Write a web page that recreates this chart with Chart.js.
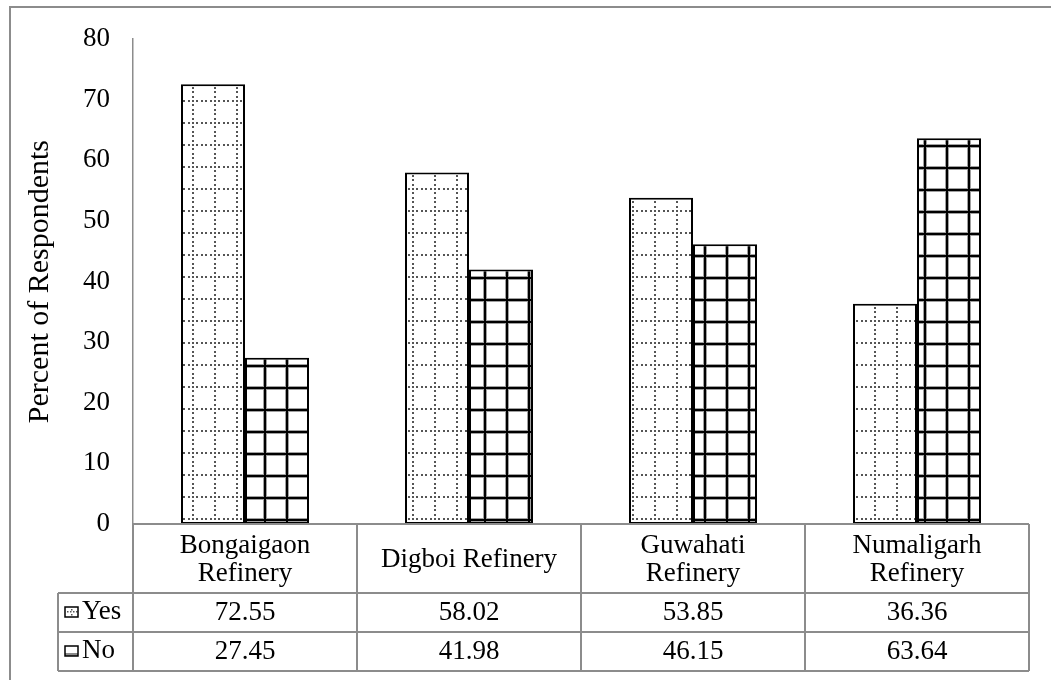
<!DOCTYPE html>
<html>
<head>
<meta charset="utf-8">
<script src="https://cdn.jsdelivr.net/npm/chart.js@4.4.0/dist/chart.umd.min.js"></script>
<style>
  html, body { margin: 0; padding: 0; background: #fff; }
  #wrap { position: relative; width: 1051px; height: 680px; }
</style>
</head>
<body>
<div id="wrap"><canvas id="chart"></canvas></div>
<script>
// Data
const categories = [['Bongaigaon', 'Refinery'], ['Digboi Refinery'], ['Guwahati', 'Refinery'], ['Numaligarh', 'Refinery']];
const seriesNames = ['Yes', 'No'];
const yesValues = [72.55, 58.02, 53.85, 36.36];
const noValues = [27.45, 41.98, 46.15, 63.64];
const yTicks = [0, 10, 20, 30, 40, 50, 60, 70, 80];

const FONT = '"Liberation Serif", "Times New Roman", serif';
const LINE = '#8c8c8c';

// dotted grid fill for "Yes"
function yesPattern() {
    const c = document.createElement('canvas');
    c.width = 22; c.height = 22;
    const p = c.getContext('2d');
    p.fillStyle = '#fff';
    p.fillRect(0, 0, 22, 22);
    p.fillStyle = '#555';
    for (let i = 0; i < 22; i += 4.4) {
        p.fillRect(Math.round(i), 0, 2, 2);
        p.fillRect(0, Math.round(i), 2, 2);
    }
    const pat = p.createPattern(c, 'repeat');
    pat.setTransform(new DOMMatrix().translate(16, 12));
    return pat;
}

// solid grid fill for "No"
function noPattern() {
    const c = document.createElement('canvas');
    c.width = 22; c.height = 22;
    const p = c.getContext('2d');
    p.fillStyle = '#fff';
    p.fillRect(0, 0, 22, 22);
    p.fillStyle = '#a0a0a0';
    p.fillRect(0, 0, 4, 22);
    p.fillRect(0, 0, 22, 4);
    p.fillStyle = '#000';
    p.fillRect(1, 0, 2, 22);
    p.fillRect(0, 1, 22, 2);
    const pat = p.createPattern(c, 'repeat');
    pat.setTransform(new DOMMatrix().translate(-1, 12));
    return pat;
}

const fills = [yesPattern(), noPattern()];
const values = [yesValues, noValues];

// frame + data table under the plot
const tablePlugin = {
    id: 'dataTable',
    beforeDraw(chart) {
        const ctx = chart.ctx;
        ctx.save();
        ctx.strokeStyle = LINE;
        ctx.lineWidth = 2;
        ctx.strokeRect(10, 7, 1200, 800);
        ctx.restore();
    },
    afterDraw(chart) {
        const { ctx, chartArea, scales } = chart;
        const x = scales.x;
        const left = chartArea.left, right = chartArea.right, top0 = chartArea.bottom;
        const y1 = top0 + 69, y2 = y1 + 39, y3 = y2 + 39;
        const legendLeft = 58;
        const colW = (right - left) / categories.length;

        ctx.save();
        ctx.strokeStyle = LINE;
        ctx.lineWidth = 2;
        ctx.beginPath();
        ctx.moveTo(left, top0); ctx.lineTo(right, top0);
        [y1, y2, y3].forEach(y => { ctx.moveTo(legendLeft, y); ctx.lineTo(right, y); });
        ctx.moveTo(legendLeft, y1); ctx.lineTo(legendLeft, y3);
        for (let i = 0; i <= categories.length; i++) {
            const xx = Math.round(left + i * colW);
            ctx.moveTo(xx, top0); ctx.lineTo(xx, y3);
        }
        ctx.stroke();

        ctx.fillStyle = '#000';
        ctx.font = '27px ' + FONT;
        ctx.textAlign = 'center';
        ctx.textBaseline = 'middle';
        categories.forEach((cat, i) => {
            const cx = x.getPixelForValue(i);
            const lines = Array.isArray(cat) ? cat : [cat];
            const lh = 28;
            const start = (top0 + y1) / 2 + 1 - (lines.length - 1) * lh / 2;
            lines.forEach((t, j) => ctx.fillText(t, cx, start + j * lh));
            ctx.fillText(yesValues[i].toFixed(2), cx, (y1 + y2) / 2);
            ctx.fillText(noValues[i].toFixed(2), cx, (y2 + y3) / 2);
        });

        // series keys
        ctx.textAlign = 'left';
        [y1, y2].forEach((yy, k) => {
            const cy = yy + 19;
            ctx.fillText(seriesNames[k], 82, cy);
            const bx = 65, by = cy - 5, bw = 13, bh = 10;
            ctx.fillStyle = '#fff';
            ctx.fillRect(bx, by, bw, bh);
            if (k === 0) {
                ctx.fillStyle = '#555';
                for (let d = bx + 2; d < bx + bw - 1; d += 3) ctx.fillRect(d, by + 4, 1.5, 1.5);
                ctx.fillRect(bx + 6, by + 2, 1.5, 1.5);
                ctx.fillRect(bx + 6, by + 7, 1.5, 1.5);
            } else {
                ctx.fillStyle = '#8a8a8a';
                ctx.fillRect(bx, by + bh - 3, bw, 3);
            }
            ctx.strokeStyle = '#000';
            ctx.lineWidth = 1.5;
            ctx.strokeRect(bx, by, bw, bh);
            ctx.fillStyle = '#000';
        });
        ctx.restore();
    }
};

new Chart(document.getElementById('chart'), {
    type: 'bar',
    data: {
        labels: categories,
        datasets: seriesNames.map((name, i) => ({
            label: name,
            data: values[i],
            backgroundColor: fills[i],
            borderColor: '#000',
            borderWidth: 2,
            borderSkipped: false,
            categoryPercentage: 128 / 224,
            barPercentage: 1
        }))
    },
    options: {
        responsive: true,
        maintainAspectRatio: false,
        animation: false,
        layout: { padding: { top: 36, right: 22, bottom: 156, left: 0 } },
        plugins: {
            legend: { display: false },
            tooltip: { enabled: false }
        },
        scales: {
            x: { display: false },
            y: {
                min: 0,
                max: 80,
                afterBuildTicks: s => { s.ticks = yTicks.map(v => ({ value: v })); },
                afterFit: s => { s.width = 133; },
                grid: { display: false, drawTicks: false },
                border: { display: true, color: LINE, width: 1.5 },
                ticks: { padding: 23, color: '#000', font: { family: FONT, size: 27 } },
                title: {
                    display: true,
                    text: 'Percent of Respondents',
                    color: '#000',
                    font: { family: FONT, size: 30 },
                    padding: { top: 22, bottom: 0 }
                }
            }
        }
    },
    plugins: [tablePlugin]
});
</script>
</body>
</html>
